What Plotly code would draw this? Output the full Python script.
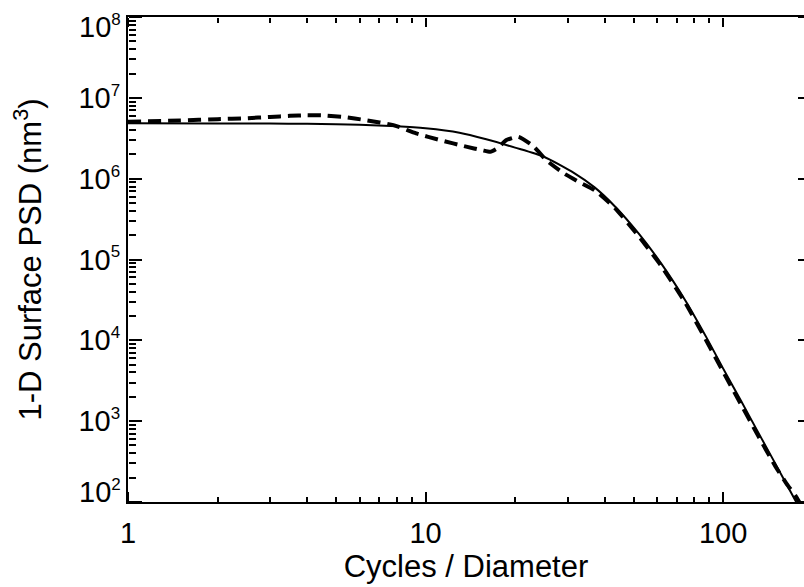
import plotly.graph_objects as go

# ---- data ----
freq_solid = [1, 2, 3, 4, 5, 6, 8, 10, 13, 16, 20, 25, 31.6, 37, 43.4, 52, 62, 74.5,
              88, 100, 115, 130, 150, 175, 185]
psd_solid = [4.84e6, 4.83e6, 4.80e6, 4.77e6, 4.72e6, 4.65e6, 4.45e6, 4.2e6, 3.7e6, 3.07e6,
             2.42e6, 1.87e6, 1.17e6, 7.8e5, 4.5e5, 2.1e5, 8.9e4, 3.16e4,
             1.08e4, 4.5e3, 1.77e3, 774, 296, 104, 72]

freq_dashed = [1, 1.5, 2, 2.5, 3, 3.5, 4, 4.6, 5.3, 6.3, 7.8, 9.3, 11.2, 13.7, 15.5, 16.5,
               17.5, 18.7, 20.5, 23.1, 25.4, 29.2, 33, 37, 43.4, 52, 62, 74.5, 88, 100,
               115, 130, 150, 165, 175, 185]
psd_dashed = [5.07e6, 5.25e6, 5.45e6, 5.6e6, 5.8e6, 6.0e6, 6.1e6, 6.05e6, 5.8e6, 5.3e6,
              4.6e6, 3.64e6, 3.0e6, 2.49e6, 2.25e6, 2.15e6, 2.4e6, 3.0e6, 3.3e6, 2.5e6,
              1.7e6, 1.16e6, 9.0e5, 7.2e5, 4.3e5, 1.95e5, 8.3e4, 2.95e4, 9.8e3, 4.1e3,
              1.6e3, 700, 275, 160, 120, 85]

y_exponents = [2, 3, 4, 5, 6, 7, 8]
y_tick_vals = [10.0 ** e for e in y_exponents]
y_tick_text = ["10<sup><span style='font-size:17px'>%d</span></sup>" % e for e in y_exponents]

x_title = "Cycles / Diameter"
y_title = "1-D Surface PSD (nm<sup>3</sup>)"

FONT = "Liberation Sans, Arial, Helvetica, sans-serif"
XR = [0, 2.272]
YR = [1.9995, 8.0005]
CLEAR = "rgba(0,0,0,0)"

fig = go.Figure()
fig.add_trace(go.Scatter(x=freq_dashed, y=psd_dashed, mode="lines",
                         line=dict(color="black", width=4, dash="13px,7px",
                                   shape="spline", smoothing=0.5),
                         showlegend=False, hoverinfo="skip"))
fig.add_trace(go.Scatter(x=freq_solid, y=psd_solid, mode="lines",
                         line=dict(color="black", width=2, shape="spline", smoothing=0.6),
                         showlegend=False, hoverinfo="skip"))
# empty traces so that the tick-only overlay axes are drawn
for xa, ya in [("x", "y3"), ("x", "y4"), ("x2", "y"), ("x3", "y")]:
    fig.add_trace(go.Scatter(x=[], y=[], xaxis=xa, yaxis=ya,
                             showlegend=False, hoverinfo="skip"))


def xticks_axis(side, pos, major, minor):
    return dict(type="log", range=XR, dtick=1, overlaying="x", side=side,
                anchor="free", position=pos, automargin=False,
                ticks="outside", ticklen=major, tickwidth=2, tickcolor="black",
                minor=dict(dtick="D1", ticks="outside", ticklen=minor, tickwidth=1.5,
                           tickcolor="black", showgrid=False),
                showticklabels=False, showline=False, showgrid=False, zeroline=False)


def yticks_axis(side, pos, major, minor):
    d = dict(type="log", range=YR, dtick=1, overlaying="y", side=side,
             anchor="free", position=pos, automargin=False,
             ticks="outside", ticklen=major, tickwidth=2, tickcolor="black",
             showticklabels=False, showline=False, showgrid=False, zeroline=False)
    if minor:
        d["minor"] = dict(dtick="D1", ticks="outside", ticklen=minor, tickwidth=1.5,
                          tickcolor="black", showgrid=False)
    return d


# end labels (10^2 and 10^8) are nudged inside the frame, as in the reference
end_labels = []
for e, txt, shift in [(y_exponents[-1], y_tick_text[-1], -9), (y_exponents[0], y_tick_text[0], 10)]:
    end_labels.append(dict(text=txt, xref="paper", x=0, xanchor="right", xshift=-5,
                           yref="y", y=e, yanchor="middle", yshift=shift,
                           showarrow=False, font=dict(size=29, family=FONT, color="black")))

fig.update_layout(
    width=804, height=587,
    margin=dict(l=128, r=0, t=17, b=85),
    paper_bgcolor="white", plot_bgcolor="white",
    font=dict(family=FONT, color="black"),
    showlegend=False,
    xaxis=dict(
        type="log", range=XR, dtick=1, automargin=False,
        ticks="outside", ticklen=4, tickcolor=CLEAR,
        showline=True, linewidth=2, linecolor="black", mirror=True,
        showgrid=False, zeroline=False, ticklabeloverflow="allow",
        tickfont=dict(size=29, family=FONT, color="black"),
        title=dict(text=x_title, font=dict(size=31, family=FONT, color="black"), standoff=5),
    ),
    yaxis=dict(
        type="log", range=YR, automargin=False,
        tickvals=y_tick_vals[1:-1], ticktext=y_tick_text[1:-1],
        ticks="inside", ticklen=13, tickcolor=CLEAR,
        showline=True, linewidth=2, linecolor="black", mirror=False,
        showgrid=False, zeroline=False, ticklabeloverflow="allow",
        tickfont=dict(size=29, family=FONT, color="black"),
        title=dict(text=y_title, font=dict(size=31, family=FONT, color="black"), standoff=28),
    ),
    # inward-pointing ticks drawn as outward ticks of axes on the opposite side
    xaxis2=xticks_axis("top", 0, 10, 5),      # bottom edge, ticks point up
    xaxis3=xticks_axis("bottom", 1, 9, 5),    # top edge, ticks point down
    yaxis3=yticks_axis("right", 0, 13, 7),    # left edge, ticks point right
    yaxis4=yticks_axis("left", 1, 6, 0),      # right edge, major ticks only
    annotations=end_labels,
)

fig.write_html("out.html")
